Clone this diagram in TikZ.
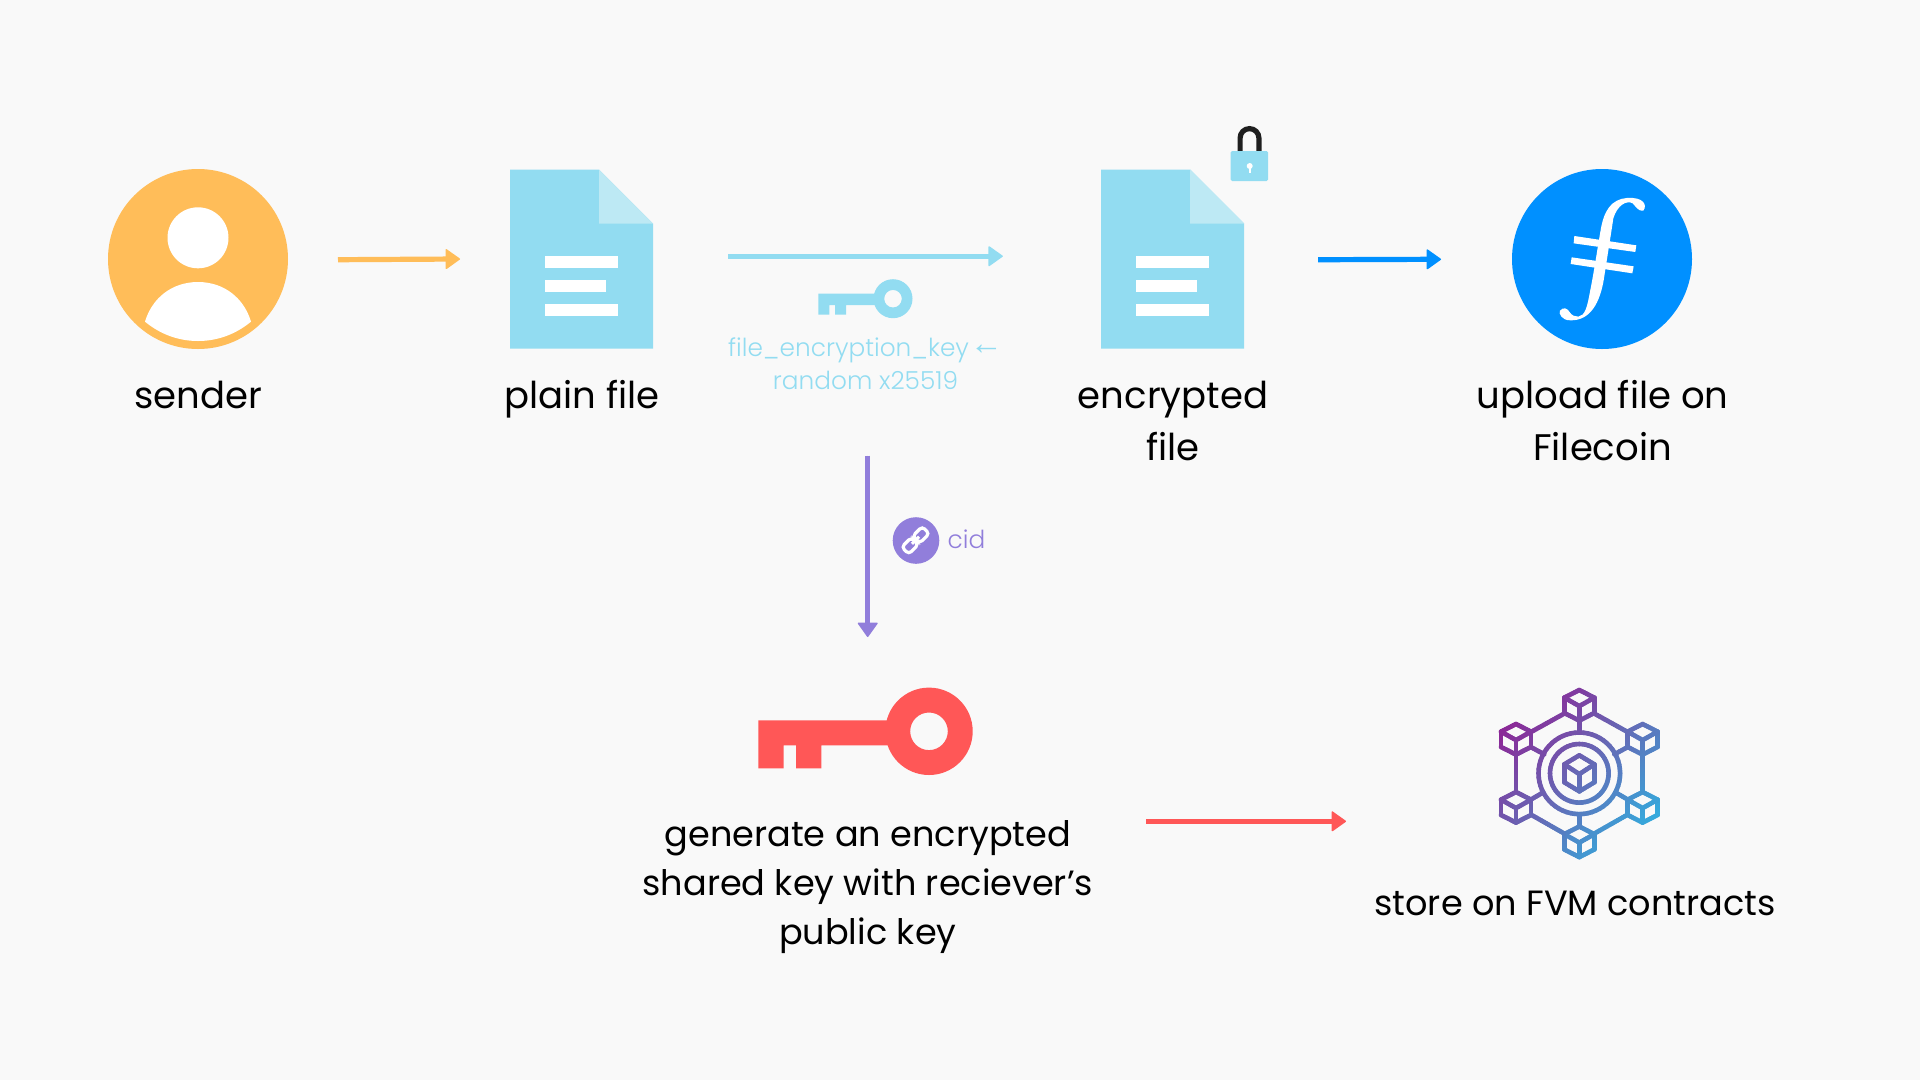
\documentclass[tikz,border=0pt]{standalone}
\usepackage{fontspec}
\usetikzlibrary{arrows.meta,calc}
\setmainfont{Poppins}
\newfontfamily\plight{Poppins Light}
\newfontfamily\arrowfont{Liberation Sans}
\definecolor{bgc}{HTML}{F9F9F9}
\definecolor{docblue}{HTML}{92DCF1}
\definecolor{foldblue}{HTML}{BDE9F4}
\definecolor{amber}{HTML}{FFBD59}
\definecolor{redkey}{HTML}{FF5757}
\definecolor{violet}{HTML}{917EDB}
\definecolor{fcblue}{HTML}{0090FF}
\definecolor{netA}{HTML}{8E2495}
\definecolor{netB}{HTML}{6668B5}
\definecolor{netC}{HTML}{32AEDF}
\tikzset{
  flow/.style={line width=5.2pt,-{Triangle[length=15pt,width=21pt,line width=1.5pt,round]}},
  lbl/.style={font=\fontsize{37}{52}\selectfont,align=center,text=black,inner sep=0pt,anchor=base},
  lblsmall/.style={font=\fontsize{35.1}{49}\selectfont,align=center,text=black,inner sep=0pt,anchor=base},
  small/.style={font=\plight\fontsize{24.8}{33}\selectfont,align=center,inner sep=0pt,anchor=base},
  iconbox/.style={inner sep=0pt,outer sep=0pt},
  netline/.style={line width=4.6pt,line cap=round,line join=round},
  pics/docicon/.style={code={
    \fill[docblue] (-71.5,-89.5) -- (17.5,-89.5) -- (71.5,-35.7) -- (71.5,89.5) -- (-71.5,89.5) -- cycle;
    \fill[foldblue] (17.5,-89.5) -- (71.5,-35.7) -- (17.5,-35.7) -- cycle;
    \fill[white] (-36.5,-3) rectangle (36.5,9);
    \fill[white] (-36.5,21) rectangle (24,33);
    \fill[white] (-36.5,45) rectangle (36.5,57);
  }}
}
% a short piece of gradient stroke: colour follows the position along the diagonal
\newcommand\gradpiece[4]{%
  \pgfmathsetmacro\gt{min(1,max(0,((#1+#3)/2+(#2+#4)/2+127)/254))}%
  \pgfmathparse{\gt<0.5?1:0}%
  \ifdim\pgfmathresult pt>0.5pt
    \pgfmathsetmacro\gp{200*\gt}\colorlet{gcol}{netB!\gp!netA}%
  \else
    \pgfmathsetmacro\gp{200*\gt-100}\colorlet{gcol}{netC!\gp!netB}%
  \fi
  \draw[netline,draw=gcol] (#1,#2) -- (#3,#4);}
\newcommand\gradline[4]{%
  \pgfmathtruncatemacro\gn{max(1,ceil(veclen(#3-#1,#4-#2)/3))}%
  \foreach \gi in {1,...,\gn}{%
    \pgfmathsetmacro\xa{#1+(#3-#1)*(\gi-1)/\gn}%
    \pgfmathsetmacro\ya{#2+(#4-#2)*(\gi-1)/\gn}%
    \pgfmathsetmacro\xb{#1+(#3-#1)*\gi/\gn}%
    \pgfmathsetmacro\yb{#2+(#4-#2)*\gi/\gn}%
    \gradpiece{\xa}{\ya}{\xb}{\yb}%
  }}
\newcommand\gradcircle[1]{%
  \foreach \ga in {0,6,...,354}{%
    \pgfmathsetmacro\xa{#1*cos(\ga)}\pgfmathsetmacro\ya{#1*sin(\ga)}%
    \pgfmathsetmacro\xb{#1*cos(\ga+6)}\pgfmathsetmacro\yb{#1*sin(\ga+6)}%
    \gradpiece{\xa}{\ya}{\xb}{\yb}%
  }}
% cube at (#1,#2), half width #3, half height #4
\newcommand\gradcube[4]{%
  \pgfmathsetmacro\cxl{#1-#3}\pgfmathsetmacro\cxr{#1+#3}%
  \pgfmathsetmacro\cyt{#2-#4}\pgfmathsetmacro\cyb{#2+#4}%
  \pgfmathsetmacro\cyu{#2-#4/2}\pgfmathsetmacro\cyl{#2+#4/2}%
  \pgfmathsetmacro\cym{#2+0.8}%
  \edef\gargs{{#1}{\cyt}{\cxr}{\cyu}}\expandafter\gradline\gargs
  \edef\gargs{{\cxr}{\cyu}{\cxr}{\cyl}}\expandafter\gradline\gargs
  \edef\gargs{{\cxr}{\cyl}{#1}{\cyb}}\expandafter\gradline\gargs
  \edef\gargs{{#1}{\cyb}{\cxl}{\cyl}}\expandafter\gradline\gargs
  \edef\gargs{{\cxl}{\cyl}{\cxl}{\cyu}}\expandafter\gradline\gargs
  \edef\gargs{{\cxl}{\cyu}{#1}{\cyt}}\expandafter\gradline\gargs
  \edef\gargs{{\cxl}{\cyu}{#1}{\cym}}\expandafter\gradline\gargs
  \edef\gargs{{\cxr}{\cyu}{#1}{\cym}}\expandafter\gradline\gargs
  \edef\gargs{{#1}{\cym}{#1}{\cyb}}\expandafter\gradline\gargs
}
\begin{document}
\begin{tikzpicture}[x=1pt,y=-1pt]
  \useasboundingbox (0,0) rectangle (1920,1080);
  \fill[bgc] (0,0) rectangle (1920,1080);

  % sender
  \node[iconbox,circle,fill=amber,minimum size=180pt] (sender) at (198,259) {};
  \fill[white] (198,237.8) circle (30.5);
  \fill[white] (145,321.7) .. controls (152,298) and (172,282) .. (198,282)
     .. controls (224,282) and (244,298) .. (251,321.7)
     .. controls (236,334) and (218,341) .. (198,341)
     .. controls (178,341) and (160,334) .. (145,321.7) -- cycle;
  \node[lbl] (senderlabel) at (198,408) {sender};

  % plain file
  \node[iconbox,minimum width=143pt,minimum height=179pt] (plainfile) at (581.5,259.2) {};
  \pic at (581.5,259.2) {docicon};
  \node[lbl] (plainlabel) at (582,408) {plain file};

  % encrypted file
  \node[iconbox,minimum width=143pt,minimum height=179pt] (encfile) at (1172.7,259.2) {};
  \pic at (1172.7,259.2) {docicon};
  \node[lbl] (enclabel) at (1173,460) {encrypted\\file};

  % lock
  \draw[draw=black!88,line width=5.2pt] (1240.1,152) -- (1240.1,138) arc[start angle=180,end angle=360,radius=9.4] -- (1258.9,152);
  \fill[docblue,rounded corners=1.5pt] (1230.7,151) rectangle (1268,181);
  \fill[white] (1249.7,166) circle (3);
  \fill[white] (1248.5,166) rectangle (1250.9,173);

  % Filecoin
  \node[iconbox,circle,fill=fcblue,minimum size=180pt] (filecoin) at (1602,259) {};
  \begin{scope}[shift={(1480,150)},x=0.3333pt,y=-0.3333pt]
    \fill[white] (440,144) .. controls (490,140) and (503,165) .. (490,182)
      .. controls (475,185) and (468,170) .. (458,160)
      .. controls (440,150) and (412,165) .. (400,205)
      .. controls (395,240) and (385,300) .. (372,385)
      .. controls (360,460) and (330,512) .. (272,511)
      .. controls (245,512) and (235,490) .. (240,482)
      .. controls (250,470) and (262,475) .. (268,485)
      .. controls (275,497) and (285,500) .. (295,500)
      .. controls (315,498) and (322,470) .. (330,425)
      .. controls (342,365) and (350,310) .. (362,240)
      .. controls (372,180) and (395,148) .. (440,144) -- cycle;
    \fill[white] (283,258) -- (469,286) -- (466,306) -- (281,280) -- cycle;
    \fill[white] (275,322) -- (461,349) -- (457,370) -- (272,342) -- cycle;
  \end{scope}
  \node[lbl] (uploadlabel) at (1602.5,460) {upload file on\\Filecoin};

  % top connectors
  \draw[flow,draw=amber,fill=amber,shorten <=50pt,shorten >=50pt] ([yshift=-1pt]sender.east) -- ([yshift=0.5pt]plainfile.west);
  \draw[flow,draw=docblue,fill=docblue,shorten <=75pt,shorten >=98.4pt] ([yshift=3pt]plainfile.east) -- ([yshift=3pt]encfile.west);
  \draw[flow,draw=fcblue,fill=fcblue,shorten <=74pt,shorten >=71pt] ([yshift=-0.8pt]encfile.east) -- (filecoin.west);

  % small key
  \node[iconbox,minimum width=94pt,minimum height=39pt] (smallkey) at (865.2,298.7) {};
  \fill[docblue] (818.4,293.7) -- (880,293.7) -- (880,305) -- (846,305) -- (846,314.7) -- (835,314.7) -- (835,305) -- (829.4,305) -- (829.4,314.7) -- (818.4,314.7) -- cycle;
  \fill[docblue,even odd rule] (893,298.7) circle (19.5) (893,298.7) circle (8.8);
  \node[small,text=docblue] (keylabel) at (865.5,389) {file\_encryption\_key\hspace{0.9pt}{\arrowfont\fontsize{33}{33}\selectfont\raisebox{1.5pt}{←}}\hspace{-4pt}\\random x25519};

  % cid
  \coordinate (cidstart) at (867.7,455.7);
  \coordinate (cidend) at (867.7,637);
  \draw[flow,draw=violet,fill=violet] (cidstart) -- (cidend);
  \node[iconbox,circle,fill=violet,minimum size=46.6pt] (cidicon) at (916,540.5) {};
  \begin{scope}[shift={(915.5,540.3)},rotate=45]
    \draw[white,line width=3.2pt,rounded corners=3.5pt] (-1,-2.6) -- (-1,-5) -- (-14.5,-5) -- (-14.5,5) -- (-1,5) -- (-1,2.6);
    \draw[white,line width=3.2pt,rounded corners=3.5pt] (1,-2.6) -- (1,-5) -- (14.5,-5) -- (14.5,5) -- (1,5) -- (1,2.6);
    \draw[white,line width=3pt] (-5,0) -- (5,0);
  \end{scope}
  \node[small] (cidlabel) at (966.5,548.5) {\textcolor{violet}{cid}};

  % red key
  \node[iconbox,minimum width=214pt,minimum height=87pt] (sharedkey) at (865.5,731.3) {};
  \fill[redkey] (758.3,720.3) -- (900,720.3) -- (900,745.3) -- (821.3,745.3) -- (821.3,768.3) -- (796,768.3) -- (796,745.3) -- (783.7,745.3) -- (783.7,768.3) -- (758.3,768.3) -- cycle;
  \fill[redkey,even odd rule] (929,731.3) circle (43.7) (929,731.3) circle (18.8);
  \node[lblsmall] (sharedlabel) at (867.8,944) {generate an encrypted\\shared key with reciever’s\\public key};

  % network
  \node[iconbox,minimum width=162pt,minimum height=172pt] (network) at (1579.3,773.3) {};
  \begin{scope}[shift={(1579.3,773.3)}]
    \gradcircle{40.8}
    \gradcircle{29.3}
    \gradcube{0}{0}{15}{18}
    \gradcube{0}{-68}{15}{15.3}
    \gradcube{0}{68.5}{15}{15.3}
    \gradcube{-63.3}{-34}{15}{15.3}
    \gradcube{63.3}{-34}{15}{15.3}
    \gradcube{-63.3}{34}{15}{15.3}
    \gradcube{63.3}{34}{15}{15.3}
    \gradline{-15.5}{-59.5}{-48}{-41.5}
    \gradline{15.5}{-59.5}{48}{-41.5}
    \gradline{-15.5}{60}{-48}{41.5}
    \gradline{15.5}{60}{48}{41.5}
    \gradline{-63.3}{-18}{-63.3}{18}
    \gradline{63.3}{-18}{63.3}{18}
    \gradline{0}{-52}{0}{-41}
    \gradline{0}{52}{0}{41}
    \gradline{-48}{-26}{-35}{-19}
    \gradline{48}{-26}{35}{-19}
    \gradline{-48}{26}{-36}{19}
    \gradline{48}{26}{36}{19}
  \end{scope}
  \node[lblsmall] (storelabel) at (1575,915) {store on FVM contracts};
  \coordinate (redstart) at (1146,821.3);
  \coordinate (redend) at (1346,821.3);
  \draw[flow,draw=redkey,fill=redkey] (redstart) -- (redend);
\end{tikzpicture}
\end{document}
